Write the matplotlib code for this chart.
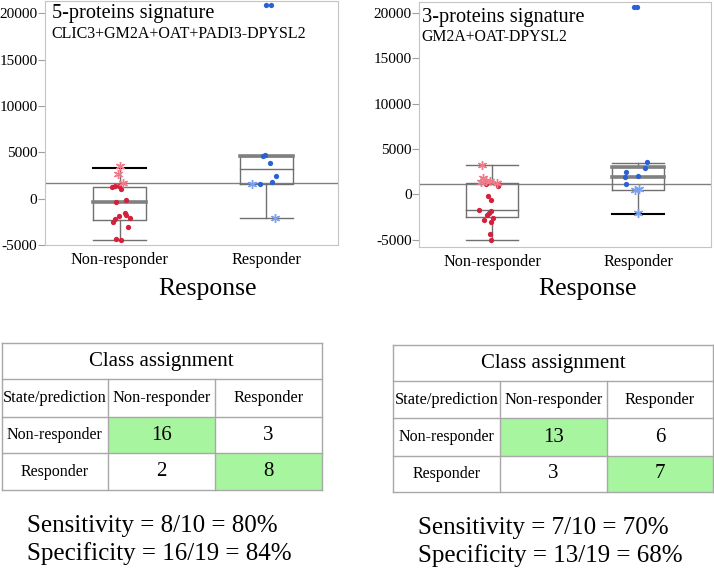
import matplotlib
matplotlib.use("Agg")
import matplotlib.pyplot as plt
from matplotlib.patches import Rectangle

plt.rcParams["font.family"] = ["Liberation Serif", "DejaVu Serif"]
plt.rcParams["axes.unicode_minus"] = False

# Data
categories = ["Non-responder", "Responder"]

# 5-protein signature (left)
p5_titles = ["5-proteins signature", "CLIC3+GM2A+OAT+PADI3-DPYSL2"]
p5_cutoff = 1645
p5_box = {  # q1, median, q3, whisker low, whisker high
    "Non-responder": (-2333, -365, 1290, -4450, 3333),
    "Responder": (1610, 3150, 4580, -2118, 4580),
}
p5_nr_dots_x = [-0.053, -0.034, -0.005, 0.012, 0.041, -0.023, 0.034, 0.046, 0.068, -0.005, -0.029, -0.046, 0.057, -0.023, 0.012]
p5_nr_dots_y = [1290, 1376, 1355, 1000, -108, -323, -1505, -1720, -2043, -1870, -2225, -2515, -3053, -4375, -4450]
p5_nr_star_x = [0.0, -0.012, 0.023]
p5_nr_star_y = [3505, 2688, 1720]
p5_r_dots_x = [-0.003, 0.031, -0.022, -0.007, 0.029, 0.065, 0.038, -0.040]
p5_r_dots_y = [20887, 20887, 4580, 4655, 3870, 2397, 1752, 1612]
p5_r_star_x = [-0.094, 0.058]
p5_r_star_y = [1612, -2043]

# 3-protein signature (right)
p3_titles = ["3-proteins signature", "GM2A+OAT-DPYSL2"]
p3_cutoff = 1082
p3_box = {
    "Non-responder": (-2540, -1733, 1214, -5045, 3200),
    "Responder": (475, 1943, 3047, -2150, 3490),
}
p3_nr_dots_x = [-0.041, 0.038, -0.030, -0.007, -0.092, -0.007, -0.023, -0.039, 0.007, -0.058, -0.007, -0.016, -0.007]
p3_nr_dots_y = [1104, 916, -188, -629, -1733, -1810, -2098, -2285, -2583, -2837, -3058, -4416, -5045]
p3_nr_star_x = [-0.068, -0.062, -0.046, -0.017, -0.075, 0.034]
p3_nr_star_y = [3235, 1766, 1500, 1500, 1390, 1280]
p3_r_dots_x = [-0.025, -0.007, 0.062, 0.050, -0.080, -0.087, 0.0, -0.082]
p3_r_dots_y = [20678, 20678, 3533, 2870, 2429, 1943, 2020, 1104]
p3_r_star_x = [-0.018, 0.005, 0.0]
p3_r_star_y = [475, 530, -2031]

# confusion tables
col_heads = ["State/prediction", "Non-responder", "Responder"]
row_heads = ["Non-responder", "Responder"]
p5_counts = [[16, 3], [2, 8]]
p3_counts = [[13, 6], [3, 7]]
p5_stats = ["Sensitivity = 8/10 = 80%", "Specificity = 16/19 = 84%"]
p3_stats = ["Sensitivity = 7/10 = 70%", "Specificity = 13/19 = 68%"]

RED, RED_L = "#d3203b", "#f07a8a"
BLUE, BLUE_L = "#2a62d6", "#7aa0f0"
GREEN = "#a8f5a0"
W, H = 714, 569

fig = plt.figure(figsize=(W / 100, H / 100), dpi=100)


def draw_plot(rect, ylim, xlim, box, cutoff, pts, thick, black):
    ax = fig.add_axes(rect)
    ax.set_xlim(*xlim)
    ax.set_ylim(*ylim)
    bw = 0.36
    for i, c in enumerate(categories):
        q1, med, q3, lo, hi = box[c]
        ax.plot([i - bw / 2, i + bw / 2, i + bw / 2, i - bw / 2, i - bw / 2],
                [q1, q1, q3, q3, q1], color="#707070", lw=1, zorder=2)
        ax.plot([i, i], [q3, hi], color="#707070", lw=1, zorder=2)
        ax.plot([i, i], [lo, q1], color="#707070", lw=1, zorder=2)
        for v, key in [(lo, "lo"), (hi, "hi")]:
            col = "black" if (c, key) in black else "#707070"
            ax.plot([i - bw / 2, i + bw / 2], [v, v], color=col,
                    lw=1.5 if col == "black" else 1, zorder=2)
        for v in thick.get(c, []):
            ax.plot([i - bw / 2, i + bw / 2], [v, v], color="#808080", lw=2.6, zorder=2)
        if c not in thick or med not in thick[c]:
            ax.plot([i - bw / 2, i + bw / 2], [med, med], color="#707070", lw=1, zorder=2)
    ax.axhline(cutoff, color="#808080", lw=1, zorder=1)
    (ndx, ndy, nsx, nsy, rdx, rdy, rsx, rsy) = pts
    ax.plot([0 + x for x in ndx], ndy, "o", color=RED, ms=3.8, mew=0, zorder=3)
    ax.plot([0 + x for x in nsx], nsy, marker=(6, 2, 0), ls="", color=RED_L, ms=6.5, mew=1, zorder=3)
    ax.plot([1 + x for x in rdx], rdy, "o", color=BLUE, ms=3.8, mew=0, zorder=3, clip_on=False)
    ax.plot([1 + x for x in rsx], rsy, marker=(6, 2, 0), ls="", color=BLUE_L, ms=6.5, mew=1, zorder=3)
    for s in ax.spines.values():
        s.set_color("#c4c4c4")
    ax.set_yticks([-5000, 0, 5000, 10000, 15000, 20000])
    ax.set_xticks([0, 1], categories)
    ax.tick_params(axis="y", length=5, color="#a0a0a0", labelsize=11, pad=0.5)
    ax.tick_params(axis="x", length=0, labelsize=11.7, pad=5)
    return ax


draw_plot([45 / W, 1 - 245 / H, 293 / W, 244 / H], (-5000, 21320), (-0.51, 1.49), p5_box, p5_cutoff,
          (p5_nr_dots_x, p5_nr_dots_y, p5_nr_star_x, p5_nr_star_y,
           p5_r_dots_x, p5_r_dots_y, p5_r_star_x, p5_r_star_y),
          {"Non-responder": [-365], "Responder": [4580]},
          {("Non-responder", "hi")})
draw_plot([419.3 / W, 1 - 246.7 / H, 291.7 / W, 245 / H], (-5785, 21260), (-0.5, 1.5), p3_box, p3_cutoff,
          (p3_nr_dots_x, p3_nr_dots_y, p3_nr_star_x, p3_nr_star_y,
           p3_r_dots_x, p3_r_dots_y, p3_r_star_x, p3_r_star_y),
          {"Responder": [3047, 1943]},
          {("Responder", "lo")})

# overlay in pixel coordinates for texts and tables
board = fig.add_axes([0, 0, 1, 1], zorder=10)
board.set_xlim(0, W)
board.set_ylim(H, 0)
board.axis("off")
board.patch.set_alpha(0)

board.text(51.7, 18.3, p5_titles[0], fontsize=14.7, va="baseline")
board.text(51.7, 37.7, p5_titles[1], fontsize=11.5, va="baseline")
board.text(421.7, 21.7, p3_titles[0], fontsize=14.7, va="baseline")
board.text(421.7, 40.7, p3_titles[1], fontsize=11.3, va="baseline")
board.text(207.6, 295, "Response", fontsize=18.5, ha="center", va="baseline")
board.text(587.5, 295, "Response", fontsize=18.5, ha="center", va="baseline")


def draw_table(xs, ys, counts, stats, sx, sy):
    x0, x3 = xs[0], xs[-1]
    board.add_patch(Rectangle((xs[1], ys[2]), xs[2] - xs[1], ys[3] - ys[2], fc=GREEN, ec="none"))
    board.add_patch(Rectangle((xs[2], ys[3]), xs[3] - xs[2], ys[4] - ys[3], fc=GREEN, ec="none"))
    lc = "#a8a8a8"
    for y in ys:
        board.plot([x0, x3], [y, y], color=lc, lw=1)
    board.plot([x0, x0], [ys[0], ys[-1]], color=lc, lw=1)
    board.plot([x3, x3], [ys[0], ys[-1]], color=lc, lw=1)
    for x in xs[1:-1]:
        board.plot([x, x], [ys[1], ys[-1]], color=lc, lw=1)
    board.text((x0 + x3) / 2, (ys[0] + ys[1]) / 2, "Class assignment", fontsize=15, ha="center", va="center")
    for j, t in enumerate(col_heads):
        board.text((xs[j] + xs[j + 1]) / 2, (ys[1] + ys[2]) / 2, t, fontsize=11.8, ha="center", va="center")
    for i, t in enumerate(row_heads):
        yc = (ys[i + 2] + ys[i + 3]) / 2
        board.text((xs[0] + xs[1]) / 2, yc, t, fontsize=11.5, ha="center", va="center")
        for j in range(2):
            board.text((xs[j + 1] + xs[j + 2]) / 2, yc, str(counts[i][j]), fontsize=15,
                       ha="center", va="center")
    for k, s in enumerate(stats):
        board.text(sx, sy[k], s, fontsize=18, va="baseline")


draw_table([1.7, 108.3, 215, 321.7], [343.3, 379, 416.7, 453.3, 490], p5_counts, p5_stats, 27, [531.7, 560])
draw_table([393.3, 500, 606.7, 713.3], [345, 381, 418.3, 455.7, 491.7], p3_counts, p3_stats, 418, [534, 562])

fig.savefig("out.png", dpi=100)
